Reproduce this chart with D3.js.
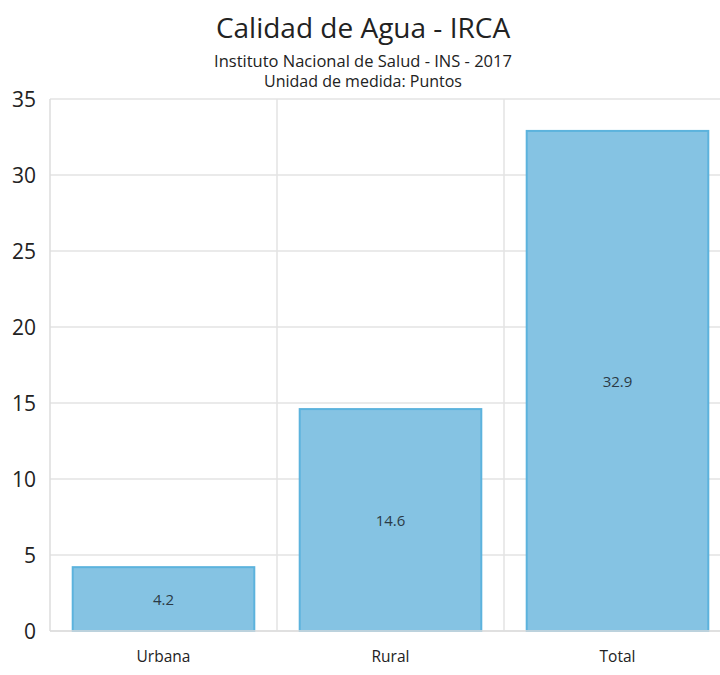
<!DOCTYPE html>
<html>
<head>
<meta charset="utf-8">
<script src="https://cdn.jsdelivr.net/npm/d3@7"></script>
<style>
  body { margin: 0; background: #fff; }
  text { font-family: "Open Sans", "Noto Sans", sans-serif; }
</style>
</head>
<body>
<div id="chart"></div>
<script>
// data
var categories = ["Urbana", "Rural", "Total"];
var values = [4.2, 14.6, 32.9];
var yTicks = [0, 5, 10, 15, 20, 25, 30, 35];

var width = 720,
    height = 675;
var plot = { left: 50, right: 731, top: 99, bottom: 631 };

var svg = d3.select("#chart")
    .append("svg")
    .attr("width", width)
    .attr("height", height);

var x = d3.scaleBand()
    .domain(categories)
    .range([plot.left, plot.right]);

var y = d3.scaleLinear()
    .domain([0, 35])
    .range([plot.bottom, plot.top]);

// horizontal grid
svg.append("g")
    .selectAll("line")
    .data(yTicks)
    .enter()
    .append("line")
    .attr("x1", plot.left)
    .attr("x2", width)
    .attr("y1", function(d) { return y(d); })
    .attr("y2", function(d) { return y(d); })
    .attr("stroke", "#e3e3e3")
    .attr("stroke-width", 1.5);

// vertical grid between categories
svg.append("g")
    .selectAll("line")
    .data(categories.slice(1))
    .enter()
    .append("line")
    .attr("x1", function(d) { return x(d); })
    .attr("x2", function(d) { return x(d); })
    .attr("y1", plot.top)
    .attr("y2", plot.bottom)
    .attr("stroke", "#e3e3e3")
    .attr("stroke-width", 1.5);

// y axis line
svg.append("line")
    .attr("x1", plot.left).attr("x2", plot.left)
    .attr("y1", plot.top).attr("y2", plot.bottom)
    .attr("stroke", "#dcdcdc")
    .attr("stroke-width", 1.5);

// bars
var inset = x.bandwidth() * 0.1;
svg.append("g")
    .selectAll("rect")
    .data(values)
    .enter()
    .append("rect")
    .attr("x", function(d, i) { return x(categories[i]) + inset; })
    .attr("width", x.bandwidth() - 2 * inset)
    .attr("y", function(d) { return y(d); })
    .attr("height", function(d) { return y(0) - y(d); })
    .attr("fill", "#85c3e3")
    .attr("stroke", "#5cb3dd")
    .attr("stroke-width", 2);

// bar labels
svg.append("g")
    .selectAll("text")
    .data(values)
    .enter()
    .append("text")
    .attr("x", function(d, i) { return x(categories[i]) + x.bandwidth() / 2; })
    .attr("y", function(d) { return (y(d) + y(0)) / 2 + 6; })
    .attr("text-anchor", "middle")
    .attr("font-size", 15)
    .attr("fill", "#2b3a46")
    .text(function(d) { return d; });

// x axis line
svg.append("line")
    .attr("x1", plot.left).attr("x2", width)
    .attr("y1", plot.bottom).attr("y2", plot.bottom)
    .attr("stroke", "#dcdcdc")
    .attr("stroke-width", 1.5);

// y tick labels
svg.append("g")
    .selectAll("text")
    .data(yTicks)
    .enter()
    .append("text")
    .attr("x", 36)
    .attr("y", function(d) { return y(d) + 8; })
    .attr("text-anchor", "end")
    .attr("font-size", 21)
    .attr("fill", "#222")
    .text(function(d) { return d; });

// x tick labels
svg.append("g")
    .selectAll("text")
    .data(categories)
    .enter()
    .append("text")
    .attr("x", function(d) { return x(d) + x.bandwidth() / 2; })
    .attr("y", 662)
    .attr("text-anchor", "middle")
    .attr("font-size", 15.5)
    .attr("fill", "#222")
    .text(function(d) { return d; });

// titles
svg.append("text")
    .attr("x", 363).attr("y", 38)
    .attr("text-anchor", "middle")
    .attr("font-size", 28)
    .attr("fill", "#222")
    .text("Calidad de Agua - IRCA");

svg.append("text")
    .attr("x", 363).attr("y", 67)
    .attr("text-anchor", "middle")
    .attr("font-size", 16.5)
    .attr("fill", "#222")
    .text("Instituto Nacional de Salud - INS - 2017");

svg.append("text")
    .attr("x", 363).attr("y", 87)
    .attr("text-anchor", "middle")
    .attr("font-size", 16)
    .attr("fill", "#222")
    .text("Unidad de medida: Puntos");
</script>
</body>
</html>
